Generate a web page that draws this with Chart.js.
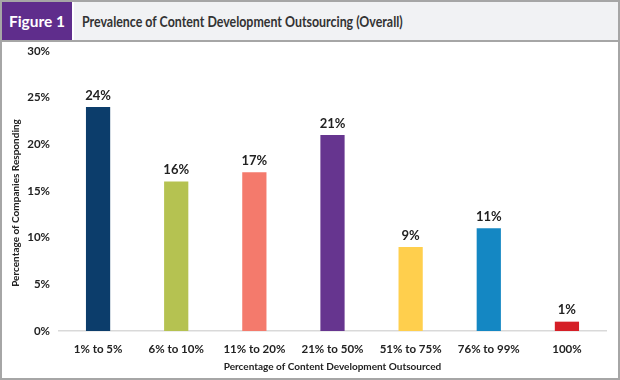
<!DOCTYPE html>
<html><head><meta charset="utf-8">
<script src="https://cdn.jsdelivr.net/npm/chart.js@4/dist/chart.umd.min.js"></script>
<style>
html,body{margin:0;padding:0;background:#fff;}
#wrap{position:absolute;left:0;top:0;width:620px;height:380px;box-sizing:border-box;border:2px solid #a6a6a6;font-family:Lato,sans-serif;}
#hdr{position:absolute;left:0;top:0;width:616px;height:38px;border-bottom:2px solid #a6a6a6;background:#f1f2f4;z-index:2;}
#fig{position:absolute;left:0;top:0;width:70px;height:38px;background:#5f2d8c;color:#fff;font-weight:bold;font-size:15.5px;line-height:38px;text-align:center;border-right:2px solid #fff;}
#ttl{position:absolute;left:80px;top:0;height:38px;line-height:38px;color:#333;font-weight:bold;font-size:15.5px;white-space:nowrap;transform:scaleX(0.8);transform-origin:left center;}
#cv{position:absolute;left:0;top:33px;width:616px;height:343px;z-index:1;}
</style></head><body>
<div id="wrap">
<div id="hdr"><div id="fig">Figure 1</div><div id="ttl">Prevalence of Content Development Outsourcing (Overall)</div></div>
<div id="cv"><canvas id="c" width="616" height="343"></canvas></div>
</div>
<script>
const categories = ["1% to 5%","6% to 10%","11% to 20%","21% to 50%","51% to 75%","76% to 99%","100%"];
const values = [24,16,17,21,9,11,1];
const barColors = ["#0c3d6b","#b5c251","#f47a6c","#66358f","#ffcf4d","#1487c3","#d51f27"];
const yTicks = [0,5,10,15,20,25,30];
const FONT = 'Lato, sans-serif';

const labelPlugin = {
  id:'lbl',
  afterDatasetsDraw(chart){
    const ctx=chart.ctx;
    const meta=chart.getDatasetMeta(0);
    ctx.save();
    ctx.font='bold 13px '+FONT;
    ctx.fillStyle='#222';
    ctx.textAlign='center';
    ctx.textBaseline='bottom';
    meta.data.forEach((b,i)=>{ctx.fillText(values[i]+'%',b.x,b.y-5);});
    // y axis title
    ctx.translate(14,168);
    ctx.rotate(-Math.PI/2);
    ctx.font='bold 10px '+FONT;
    ctx.textBaseline='middle';
    ctx.fillText('Percentage of Companies Responding',0,0);
    ctx.restore();
  }
};
new Chart(document.getElementById('c'),{
  type:'bar',
  data:{labels:categories,datasets:[{data:values,backgroundColor:barColors,borderWidth:0,barPercentage:0.31,categoryPercentage:1}]},
  options:{
    responsive:false,animation:false,
    layout:{padding:{left:2,right:12,top:0,bottom:5}},
    plugins:{legend:{display:false},tooltip:{enabled:false}},
    scales:{
      x:{
        grid:{display:false,drawTicks:false},
        border:{display:true,color:'#d9d9d9',width:1.5},
        ticks:{color:'#222',font:{family:FONT,size:11.5,weight:'bold'},padding:11,maxRotation:0},
        title:{display:true,text:'Percentage of Content Development Outsourced',color:'#222',font:{family:FONT,size:10,weight:'bold'},padding:{top:2,bottom:0}},
        afterFit(s){s.height=42;}
      },
      y:{
        min:0,max:30,
        afterBuildTicks(s){s.ticks=yTicks.map(v=>({value:v}));},
        grid:{display:false,drawTicks:false},
        border:{display:false},
        ticks:{color:'#222',font:{family:FONT,size:11.5,weight:'bold'},padding:9,callback:v=>v+'%'},
        afterFit(s){s.width=55;}
      }
    }
  },
  plugins:[labelPlugin]
});
</script>
</body></html>
